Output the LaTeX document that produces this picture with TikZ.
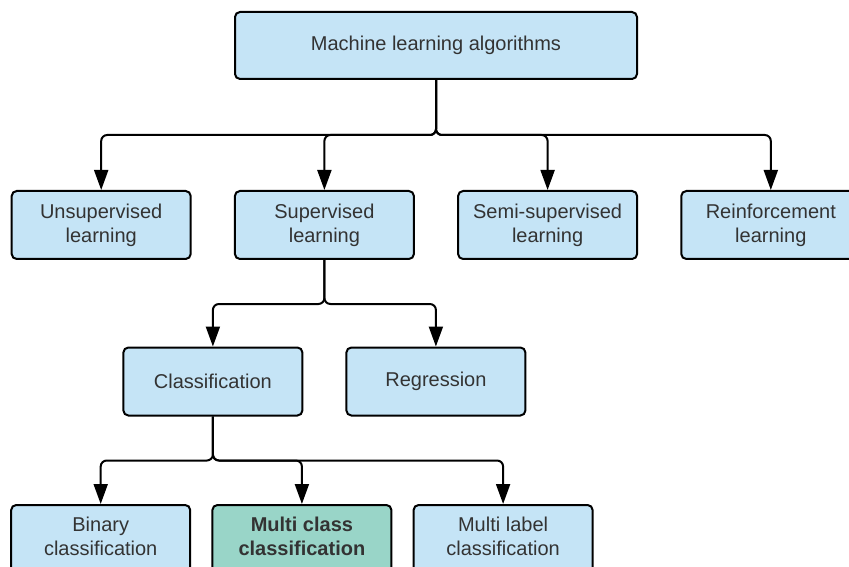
\documentclass[tikz,border=0pt]{standalone}
\usepackage{fontspec}
\setmainfont{Liberation Sans}
\usetikzlibrary{arrows.meta}
\definecolor{boxblue}{RGB}{197,228,246}
\definecolor{boxgreen}{RGB}{153,213,200}
\definecolor{txtgray}{RGB}{51,51,51}
\begin{document}
\begin{tikzpicture}[every node/.style={draw,rectangle,rounded corners=2.5pt,line width=1pt,
					fill=boxblue,text=txtgray,align=center,
					minimum width=89.5pt,minimum height=34pt,
					font=\fontsize{10}{12}\selectfont},
				highlight/.style={fill=boxgreen,font=\fontsize{10}{12}\selectfont\bfseries},
				edge from parent/.style={draw,line width=1pt,rounded corners=3pt,
					-{Triangle[length=10pt,width=7pt]}},
				level 1/.style={level distance=89.75pt,sibling distance=111.6pt,
					edge from parent path={(\tikzparentnode.south) -- ++(0,-27.5pt) -| (\tikzchildnode.north)}},
				level 2/.style={level distance=78.25pt,sibling distance=111.5pt,
					edge from parent path={(\tikzparentnode.south) -- ++(0,-22pt) -| (\tikzchildnode.north)}},
				level 3/.style={level distance=78.75pt,sibling distance=100.6pt,
					every child node/.style={text depth=3pt},
					edge from parent path={(\tikzparentnode.south) -- ++(0,-22pt) -| (\tikzchildnode.north)}}]
\clip (-218pt,22.75pt) rectangle (206.5pt,-260.25pt);
\node[minimum width=201pt,minimum height=33.5pt] (mla) {Machine learning algorithms}
child { node (unsup) {Unsupervised\\learning} }
child { node (sup) {Supervised\\learning}
	child { node (cls) {Classification}
		child[xshift=44.5pt] { node (binary) {Binary\\classification} }
		child[xshift=44.5pt] { node[highlight] (multiclass) {Multi class\\classification} }
		child[xshift=44.5pt] { node (multilabel) {Multi label\\classification} }
	}
	child { node (reg) {Regression} }
}
child { node (semi) {Semi-supervised\\learning} }
child { node (reinf) {Reinforcement\\learning} };
\end{tikzpicture}
\end{document}
